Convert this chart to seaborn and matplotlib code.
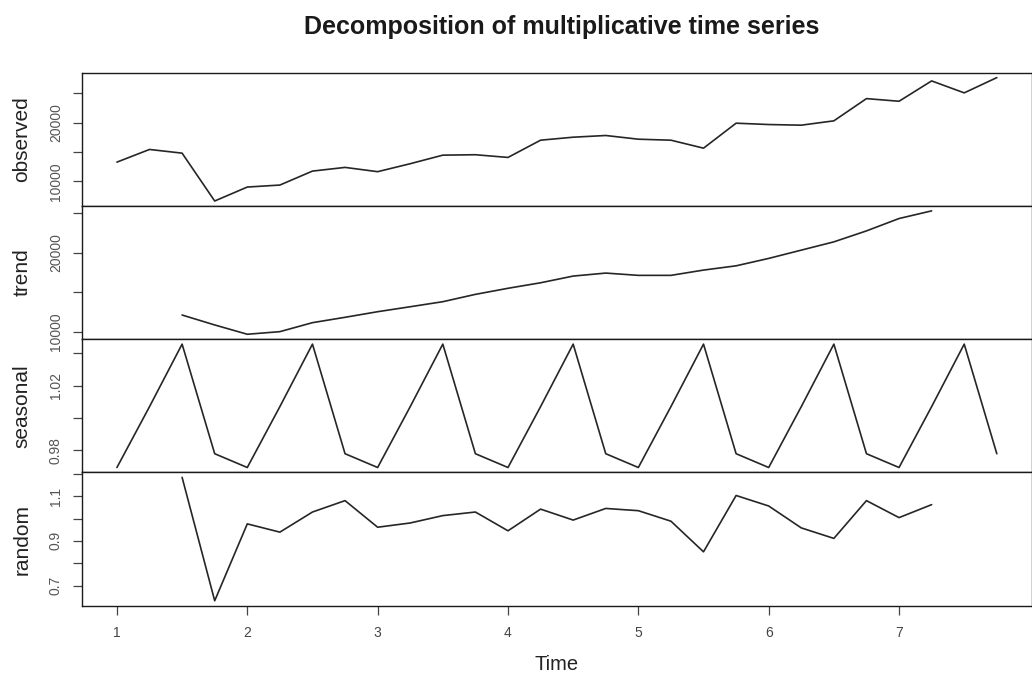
import numpy as np
import pandas as pd
import seaborn as sns
import matplotlib
matplotlib.use('Agg')
import matplotlib.pyplot as plt

sns.set_theme(style='ticks')
plt.rcParams['font.family'] = ['Liberation Sans', 'DejaVu Sans']

# quarterly time index (frequency 4)
time = [1.00, 1.25, 1.50, 1.75, 2.00, 2.25, 2.50, 2.75,
        3.00, 3.25, 3.50, 3.75, 4.00, 4.25, 4.50, 4.75,
        5.00, 5.25, 5.50, 5.75, 6.00, 6.25, 6.50, 6.75,
        7.00, 7.25, 7.50, 7.75]

observed = [13280, 15440, 14810, 6650, 9030, 9370, 11750, 12380,
            11650, 13010, 14470, 14540, 14080, 17020, 17530, 17820,
            17190, 17020, 15660, 19920, 19690, 19580, 20320, 24110,
            23660, 27130, 25090, 27690]

nan = np.nan
trend = [nan, nan, 12110, 10850, 9670, 10000, 11140, 11820,
         12530, 13160, 13800, 14730, 15500, 16200, 17050, 17430,
         17140, 17140, 17810, 18350, 19290, 20340, 21390, 22780,
         24350, 25320, nan, nan]

seasonal_quarters = [0.9695, 1.0070, 1.0455, 0.9780]
seasonal = seasonal_quarters * 7

random = [nan, nan, 1.184, 0.632, 0.976, 0.939, 1.029, 1.080,
          0.961, 0.980, 1.013, 1.029, 0.945, 1.042, 0.993, 1.045,
          1.035, 0.988, 0.851, 1.103, 1.056, 0.958, 0.911, 1.080,
          1.004, 1.062, nan, nan]

panels = ['observed', 'trend', 'seasonal', 'random']

# y ticks per panel (R skips every other label when they would overlap)
yticks = {
    'observed': [10000, 15000, 20000, 25000],
    'trend': [10000, 15000, 20000, 25000],
    'seasonal': [0.98, 1.00, 1.02, 1.04],
    'random': [0.7, 0.8, 0.9, 1.0, 1.1, 1.2],
}
ytick_labels = {
    'observed': ['10000', '', '20000', ''],
    'trend': ['10000', '', '20000', ''],
    'seasonal': ['0.98', '', '1.02', ''],
    'random': ['0.7', '', '0.9', '', '1.1', ''],
}
xticks = [1, 2, 3, 4, 5, 6, 7]

df = pd.DataFrame({'time': time, 'observed': observed, 'trend': trend,
                   'seasonal': seasonal, 'random': random})

fig, axes = plt.subplots(4, 1, figsize=(10.32, 6.73), dpi=100, sharex=True)
fig.subplots_adjust(left=0.0792, right=1.0, bottom=0.1, top=0.892, hspace=0)

span = time[-1] - time[0]
for ax, name in zip(axes, panels):
    sns.lineplot(data=df, x='time', y=name, ax=ax, color='#262626', linewidth=1.2)
    ax.margins(y=0.04)
    ax.set_xlim(time[0] - 0.04 * span, time[-1] + 0.04 * span)
    ax.set_yticks(yticks[name])
    ax.set_yticklabels(ytick_labels[name])
    for s in ax.spines.values():
        s.set_visible(True)
        s.set_color('#1a1a1a')
        s.set_linewidth(1.0)
    ax.tick_params(axis='y', direction='out', length=6.5, width=0.9, color='#444444',
                   labelsize=10, labelcolor='#555555', pad=7, labelrotation=90)
    plt.setp(ax.get_yticklabels(), va='center')
    ax.set_ylabel(name, fontsize=15, color='#222222')
    ax.yaxis.set_label_coords(-0.053, 0.5)
    ax.set_xlabel('')
    ax.tick_params(axis='x', bottom=False, labelbottom=False)

bottom = axes[-1]
bottom.set_xticks(xticks)
bottom.set_xticklabels([str(v) for v in xticks])
bottom.tick_params(axis='x', bottom=True, labelbottom=True, direction='out', length=6.5,
                   width=0.9, color='#444444', labelsize=10, labelcolor='#444444', pad=8)
bottom.set_xlabel('Time', fontsize=14.5, color='#222222')
bottom.xaxis.set_label_coords(0.5, -0.37)
bottom.xaxis.label.set_va('top')

fig.suptitle('Decomposition of multiplicative time series', x=0.544, y=0.96,
             va='center', fontsize=18, fontweight='bold', color='#1a1a1a')

fig.savefig('out.png', dpi=100)
